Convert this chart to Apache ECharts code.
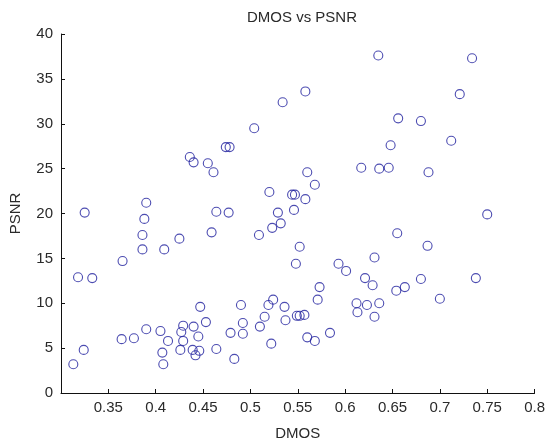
<!DOCTYPE html>
<html>
<head>
<meta charset="utf-8">
<script src="https://cdn.jsdelivr.net/npm/echarts@6/dist/echarts.min.js"></script>
<style>
  html, body { margin: 0; padding: 0; background: #fff; }
  #chart { width: 548px; height: 446px; }
</style>
</head>
<body>
<div id="chart"></div>
<script>
// DMOS / PSNR pairs for each test image
const dmos = [
  0.635, 0.734, 0.558, 0.534, 0.721, 0.656, 0.680, 0.504, 0.648, 0.712,
  0.474, 0.478, 0.436, 0.440, 0.455, 0.461, 0.617, 0.636, 0.646, 0.688,
  0.560, 0.568, 0.520, 0.544, 0.547, 0.558, 0.546, 0.529, 0.750, 0.523,
  0.532, 0.464, 0.477, 0.459, 0.509, 0.655, 0.687, 0.552, 0.548, 0.631,
  0.325, 0.390, 0.388, 0.386, 0.386, 0.425, 0.409, 0.365, 0.318, 0.333,
  0.593, 0.601, 0.738, 0.621, 0.629, 0.680, 0.663, 0.654, 0.573, 0.571,
  0.700, 0.536, 0.537, 0.549, 0.552, 0.557, 0.612, 0.613, 0.623, 0.636,
  0.631, 0.584, 0.560, 0.568, 0.447, 0.490, 0.524, 0.519, 0.515, 0.510,
  0.522, 0.453, 0.429, 0.440, 0.427, 0.445, 0.429, 0.426, 0.439, 0.446,
  0.442, 0.464, 0.483, 0.479, 0.492, 0.492, 0.390, 0.405, 0.413, 0.377,
  0.364, 0.407, 0.408, 0.324, 0.313
];
const psnr = [
  37.6, 37.3, 33.6, 32.4, 33.3, 30.6, 30.3, 29.5, 27.6, 28.1,
  27.4, 27.4, 26.3, 25.7, 25.6, 24.6, 25.1, 25.0, 25.1, 24.6,
  24.6, 23.2, 22.4, 22.1, 22.1, 21.6, 20.4, 20.1, 19.9, 18.4,
  18.9, 20.2, 20.1, 17.9, 17.6, 17.8, 16.4, 16.3, 14.4, 15.1,
  20.1, 21.2, 19.4, 17.6, 16.0, 17.2, 16.0, 14.7, 12.9, 12.8,
  14.4, 13.6, 12.8, 12.8, 12.0, 12.7, 11.8, 11.4, 11.8, 10.4,
  10.5, 9.6, 8.1, 8.6, 8.6, 8.7, 10.0, 9.0, 9.8, 10.0,
  8.5, 6.7, 6.2, 5.8, 9.6, 9.8, 10.4, 9.8, 8.5, 7.4,
  5.5, 7.9, 7.5, 7.4, 6.8, 6.3, 5.8, 4.8, 4.8, 4.7,
  4.2, 4.9, 3.8, 6.7, 7.8, 6.6, 7.1, 6.9, 5.8, 6.1,
  6.0, 4.5, 3.2, 4.8, 3.2
];

const xTicks = { min: 0.3, max: 0.8, step: 0.05 };
const yTicks = { min: 0, max: 40, step: 5 };

const points = dmos.map((d, i) => [d, psnr[i]]);

const font = '"Liberation Sans", Arial, sans-serif';
const textColor = '#2a2a2a';
const axisColor = '#111';

const chart = echarts.init(document.getElementById('chart'), null, { renderer: 'canvas' });

chart.setOption({
  backgroundColor: '#fff',
  animation: false,
  title: {
    text: 'DMOS vs PSNR',
    left: 297, top: 5,
    textAlign: 'center',
    textStyle: { fontFamily: font, fontSize: 15, fontWeight: 'normal', color: textColor }
  },
  grid: { left: 61, right: 12, top: 34, bottom: 45, containLabel: false },
  xAxis: {
    type: 'value',
    min: xTicks.min, max: xTicks.max, interval: xTicks.step,
    name: 'DMOS', nameLocation: 'middle', nameGap: 33,
    nameTextStyle: { fontFamily: font, fontSize: 15, color: textColor },
    axisLine: { lineStyle: { color: axisColor, width: 1 } },
    axisTick: { inside: true, length: 4, lineStyle: { color: axisColor } },
    axisLabel: {
      fontFamily: font, fontSize: 15, color: textColor, margin: 7,
      formatter: v => (v < xTicks.min + 0.01 ? '' : String(+v.toFixed(2)))
    },
    splitLine: { show: false }
  },
  yAxis: {
    type: 'value',
    min: yTicks.min, max: yTicks.max, interval: yTicks.step,
    name: 'PSNR', nameLocation: 'middle', nameGap: 38, nameRotate: 90,
    nameTextStyle: { fontFamily: font, fontSize: 15, color: textColor },
    axisLine: { show: true, lineStyle: { color: axisColor, width: 1 } },
    axisTick: { show: true, inside: true, length: 4, lineStyle: { color: axisColor } },
    axisLabel: { fontFamily: font, fontSize: 15, color: textColor, margin: 8 },
    splitLine: { show: false }
  },
  series: [{
    type: 'scatter',
    data: points,
    symbol: 'circle',
    symbolSize: 9,
    itemStyle: { color: 'rgba(0,0,0,0)', borderColor: '#1f1f9e', borderWidth: 1.1 }
  }]
});
</script>
</body>
</html>
